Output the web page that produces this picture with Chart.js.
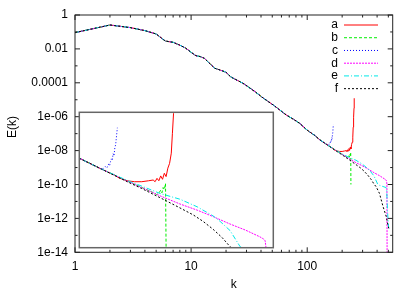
<!DOCTYPE html>
<html><head><meta charset="utf-8">
<script src="https://cdn.jsdelivr.net/npm/chart.js@4/dist/chart.umd.min.js"></script>
<style>
html,body{margin:0;padding:0;background:#fff;}
#wrap{position:relative;width:415px;height:291px;overflow:hidden;}
#main{position:absolute;left:0;top:0;}
#inset{position:absolute;left:77px;top:110px;}
</style></head><body>
<div id="wrap"><canvas id="main" width="415" height="291"></canvas><canvas id="inset" width="199" height="140"></canvas></div>
<script>
// ---- data ----
const seriesNames = ['a','b','c','d','e','f'];
const kCommon = [1,2,3,4,5,6,7,8,9,10,11,12,13,14,16,18,20,22,25,28,32,36,42,51,58,66,76,86,100,116,128,140,150];
const eCommon = [9.1e-2,2.57e-1,1.8e-1,1.2e-1,7.6e-2,2.9e-2,2.45e-2,1.66e-2,1.1e-2,6.3e-3,4.0e-3,3.5e-3,2.8e-3,1.7e-3,7.2e-4,5.5e-4,4.2e-4,2.2e-4,1.4e-4,9.3e-5,5.0e-5,2.8e-5,1.23e-5,4.9e-6,2.5e-6,1.26e-6,7.1e-7,4.1e-7,1.6e-7,7.9e-8,4.4e-8,2.9e-8,2.1e-8];

const kA = [165,170,180,190,200,210,217,220,223,226,229,232,235,238,241,244,247,249,251,253,254];
const eA = [1.38e-8,1.15e-8,9.5e-9,8.9e-9,8.9e-9,9.5e-9,1.0e-8,8.9e-9,1.12e-8,9.5e-9,1.32e-8,1.05e-8,1.58e-8,1.26e-8,2.24e-8,3.1e-8,6.2e-8,2.4e-7,9.3e-7,3.2e-6,1.23e-5];

const kB = [165,183,200,220,222,226,229,231,233,235,237,238];
const eB = [1.38e-8,8.7e-9,6.0e-9,4.0e-9,3.7e-9,4.1e-9,5.0e-9,4.2e-9,6.0e-9,5.2e-9,7.9e-9,1.0e-10];

const kC = [152,154,156,158,159,160,161,162,163,164,165,166,167,168];
const eC = [2.2e-8,2.5e-8,2.3e-8,3.0e-8,2.7e-8,3.5e-8,4.2e-8,3.8e-8,6.0e-8,5.2e-8,8.9e-8,1.12e-7,2.0e-7,3.5e-7];

const kD = [165,183,200,228,263,297,333,376,420,465,478,483,486,488];
const eD = [1.38e-8,8.7e-9,6.0e-9,3.4e-9,1.95e-9,1.29e-9,8.3e-10,5.0e-10,3.3e-10,2.1e-10,1.8e-10,1.6e-10,1.0e-10,1e-15];

const kE = [165,183,200,228,263,297,333,350,376,404,420,450,478,484,488,494,500,505];
const eE = [1.41e-8,9.1e-9,6.6e-9,4.0e-9,2.7e-9,1.62e-9,8.7e-10,6.0e-10,3.2e-10,1.07e-10,8.9e-11,7.6e-11,6.6e-11,4.5e-11,1.0e-11,1.6e-12,5.0e-13,2.0e-13];

const kF = [165,183,200,228,260,289,310,333,355,376,394,419,450,480,497,505];
const eF = [1.35e-8,8.3e-9,5.6e-9,3.0e-9,1.58e-9,9.3e-10,6.0e-10,3.5e-10,2.0e-10,1.07e-10,7.1e-11,3.0e-11,5.0e-12,1.26e-12,3.5e-13,2.6e-13];

const xTickValues = [1,10,100];
const xTickLabels = ['1','10','100'];
const yTickValues = [1,1e-2,1e-4,1e-6,1e-8,1e-10,1e-12,1e-14];
const yTickLabels = ['1','0.01','0.0001','1e-06','1e-08','1e-10','1e-12','1e-14'];
const xTitle = 'k';
const yTitle = 'E(k)';

// ---- styles ----
const colors = ['#ff0000','#00ee00','#0000ff','#ff00ff','#00e8e8','#000000'];
const dashes = [[],[3,2],[1,2],[2,1],[5,2,1,2],[2,2]];
const tails = [[kA,eA],[kB,eB],[kC,eC],[kD,eD],[kE,eE],[kF,eF]];
const FONT = "'Liberation Sans', Arial, sans-serif";

function makeDatasets(){
  return seriesNames.map((name,i)=>{
    const ks = kCommon.concat(tails[i][0]);
    const es = eCommon.concat(tails[i][1]);
    return {
      label:name,
      data: ks.map((k,j)=>({x:k,y:es[j]})),
      borderColor:colors[i], borderDash:dashes[i], borderWidth:1,
      pointRadius:0, fill:false, tension:0, order:6-i
    };
  });
}

function setTicks(values){ return (s)=>{ s.ticks = values.map(v=>({value:v})); }; }

const mainDecor = {
  id:'mainDecor',
  afterDraw(chart){
    const ctx = chart.ctx, a = chart.chartArea;
    const xs = chart.scales.x, ys = chart.scales.y;
    ctx.save();
    ctx.strokeStyle = '#222'; ctx.lineWidth = 1;
    ctx.beginPath();
    for (let d=0; d<=2; d++) for (let n=1; n<=9; n++){
      const v = n*Math.pow(10,d);
      if (v < xs.min || v > xs.max) continue;
      const p = xs.getPixelForValue(v), L = n===1 ? 5 : 2.5;
      ctx.moveTo(p, a.bottom); ctx.lineTo(p, a.bottom-L);
      ctx.moveTo(p, a.top); ctx.lineTo(p, a.top+L);
    }
    for (let e=-14; e<=0; e++){
      const p = ys.getPixelForValue(Math.pow(10,e)), L = (e%2===0) ? 5 : 2.5;
      ctx.moveTo(a.left, p); ctx.lineTo(a.left+L, p);
      ctx.moveTo(a.right, p); ctx.lineTo(a.right-L, p);
    }
    ctx.stroke();
    ctx.strokeRect(a.left, a.top, a.right-a.left, a.bottom-a.top);
    // y axis title
    ctx.fillStyle = '#000';
    ctx.font = '12px ' + FONT;
    ctx.textAlign = 'center'; ctx.textBaseline = 'middle';
    ctx.save(); ctx.translate(13, 127); ctx.rotate(-Math.PI/2);
    ctx.fillText(yTitle, 0, 0); ctx.restore();
    // legend
    ctx.textAlign = 'right'; ctx.textBaseline = 'middle';
    chart.data.datasets.forEach((ds,i)=>{
      const y = 25 + i*12.73;
      ctx.fillStyle = '#000';
      ctx.fillText(ds.label, 338, y);
      ctx.strokeStyle = ds.borderColor; ctx.setLineDash(ds.borderDash);
      ctx.beginPath(); ctx.moveTo(344, y); ctx.lineTo(378, y); ctx.stroke();
    });
    ctx.setLineDash([]);
    ctx.restore();
  }
};

new Chart(document.getElementById('main'), {
  type:'line',
  data:{datasets:makeDatasets()},
  options:{
    responsive:false, animation:false, devicePixelRatio:1,
    layout:{padding:{left:0, top:15, right:22.3, bottom:0}},
    plugins:{legend:{display:false}, tooltip:{enabled:false}},
    scales:{
      x:{type:'logarithmic', min:1, max:545,
        grid:{display:false, drawTicks:false}, border:{display:false},
        afterBuildTicks:setTicks(xTickValues),
        afterFit:(s)=>{ s.height = 38.7; },
        ticks:{autoSkip:false, maxRotation:0, padding:7, color:'#000', font:{family:FONT,size:12},
          callback:(v)=>xTickLabels[xTickValues.indexOf(v)]},
        title:{display:true, text:xTitle, color:'#000', font:{family:FONT,size:12,lineHeight:1}, padding:{top:0,bottom:0}}
      },
      y:{type:'logarithmic', min:1e-14, max:1,
        grid:{display:false, drawTicks:false}, border:{display:false},
        afterBuildTicks:setTicks(yTickValues),
        afterFit:(s)=>{ s.width = 75; },
        ticks:{autoSkip:false, padding:7, color:'#000', font:{family:FONT,size:12},
          callback:(v)=>yTickLabels[yTickValues.indexOf(v)]},
        title:{display:false}
      }
    }
  },
  plugins:[mainDecor]
});

const insetDecor = {
  id:'insetDecor',
  beforeDatasetsDraw(chart){
    const ctx = chart.ctx, a = chart.chartArea;
    ctx.save(); ctx.fillStyle = '#fff';
    ctx.fillRect(a.left, a.top, a.right-a.left, a.bottom-a.top); ctx.restore();
  },
  afterDraw(chart){
    const ctx = chart.ctx, a = chart.chartArea;
    ctx.save(); ctx.strokeStyle = '#666'; ctx.lineWidth = 1.5;
    ctx.strokeRect(a.left, a.top, a.right-a.left, a.bottom-a.top); ctx.restore();
  }
};

new Chart(document.getElementById('inset'), {
  type:'line',
  data:{datasets:makeDatasets()},
  options:{
    responsive:false, animation:false, devicePixelRatio:1,
    layout:{padding:{left:2.3, top:2.3, right:2.7, bottom:2.3}},
    plugins:{legend:{display:false}, tooltip:{enabled:false}},
    scales:{
      x:{type:'logarithmic', min:128, max:512, display:false},
      y:{type:'logarithmic', min:1e-10, max:1e-6, display:false}
    }
  },
  plugins:[insetDecor]
});
</script>
</body></html>
